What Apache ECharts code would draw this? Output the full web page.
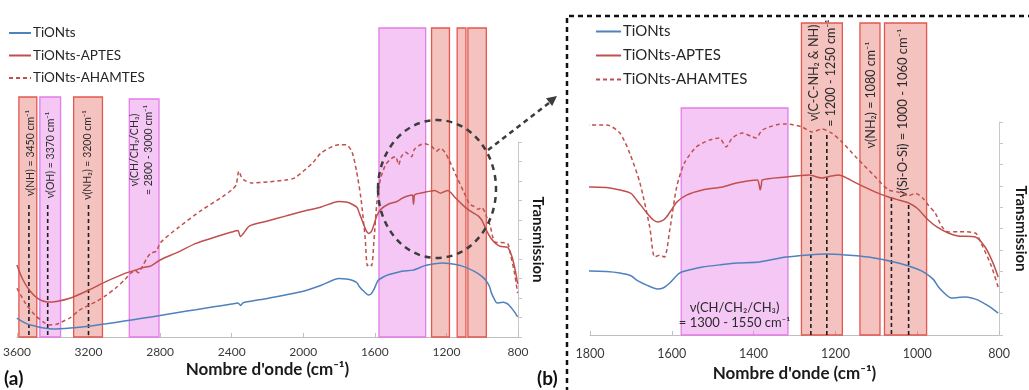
<!DOCTYPE html>
<html><head><meta charset="utf-8">
<script src="https://cdn.jsdelivr.net/npm/echarts@6/dist/echarts.min.js"></script>
<style>html,body{margin:0;padding:0;background:#fff}#c{width:1029px;height:390px}</style>
</head><body><div id="c"></div>
<script>
// ---------------- DATA ----------------
const seriesNames = ['TiONts', 'TiONts-APTES', 'TiONts-AHAMTES'];
const xTicksA = [800, 1200, 1600, 2000, 2400, 2800, 3200, 3600];
const xTicksB = [800, 1000, 1200, 1400, 1600, 1800];

const wnTiONts = [3600,3550,3500,3450,3400,3300,3200,3100,3000,2900,2800,2700,2600,2500,2400,2365,2350,2335,2200,2000,1900,1800,1760,1727,1700,1686,1660,1635,1620,1605,1581,1550,1525,1480,1442,1386,1321,1265,1223,1175,1119,1046,1000,980,960,948,930,917,900,883,865,851,825,802];
const valTiONts = [9.7,7.0,5.6,4.6,4.1,4.6,5.5,6.8,8.2,9.6,11.0,12.6,14.0,15.5,16.9,17.4,16.2,17.6,19.8,23.5,26.5,30.0,29.8,29.1,27.8,25.8,23.3,21.6,22.2,24.4,29.1,30.9,31.9,33.0,33.8,34.3,36.6,37.6,38.0,37.6,36.6,33.8,31.0,29.1,26.0,22.5,19.0,17.4,17.6,17.8,17.3,16.4,13.5,10.3];

const wnAPTES = [3600,3570,3530,3480,3430,3380,3300,3200,3100,3000,2930,2900,2850,2800,2700,2600,2500,2400,2365,2352,2335,2300,2200,2100,2000,1900,1800,1760,1727,1700,1686,1661,1645,1635,1622,1613,1600,1588,1564,1525,1476,1442,1391,1386,1384,1381,1379,1321,1265,1233,1210,1192,1170,1150,1102,1070,1046,1021,1000,973,950,924,900,858,834,815,802];
const valAPTES = [36.9,30.0,24.0,19.5,17.9,18.2,20.0,24.0,28.5,32.5,34.5,35.5,36.5,39.5,43.5,48.0,51.0,53.8,54.6,51.5,53.0,57.0,59.5,62.0,64.5,66.7,69.5,69.2,68.1,66.5,63.4,57.3,54.0,53.1,53.8,55.4,59.0,62.4,65.7,68.1,69.5,71.4,72.8,70.0,68.1,70.5,72.8,74.2,75.1,73.7,74.6,75.1,73.5,71.4,67.1,64.8,63.4,62.0,59.5,54.0,50.5,47.9,46.5,46.0,41.3,34.0,27.2];

const wnAHAMTES = [3600,3550,3500,3450,3420,3380,3350,3300,3250,3150,3100,3050,3000,2960,2940,2920,2900,2870,2850,2820,2800,2700,2567,2450,2400,2375,2360,2345,2330,2290,2200,2100,2050,1950,1900,1800,1759,1727,1703,1678,1654,1642,1630,1618,1605,1588,1569,1540,1508,1484,1467,1452,1428,1403,1394,1379,1345,1321,1282,1257,1233,1209,1184,1150,1102,1070,1046,1021,1004,985,973,956,940,924,900,858,844,820,802];
const valAHAMTES = [25.0,17.0,11.3,7.5,6.2,6.5,7.7,10.0,13.8,18.5,21.5,25.0,29.2,33.0,34.0,33.0,36.0,41.0,43.1,44.0,48.2,56.0,65.1,72.0,75.4,78.0,85.1,82.0,80.5,79.0,79.5,80.5,81.5,89.0,94.4,98.6,98.6,94.8,85.4,71.4,50.7,36.6,37.5,36.6,49.3,69.5,80.8,88.3,91.5,92.5,88.3,92.5,94.8,93.0,92.5,96.2,98.6,99.1,97.7,95.3,96.7,94.8,90.6,83.6,74.2,68.1,67.0,65.5,66.5,64.0,61.0,57.3,51.0,48.4,48.5,47.9,43.2,33.0,22.5];

// assignment bands (wavenumber ranges), kind: r = amine/silane (red), v = CH (violet)
const bandFrom = [3589, 3472, 3283, 2972, 1577, 1283, 1140, 1080];
const bandTo   = [3489, 3356, 3122, 2806, 1316, 1183, 1091, 977];
const bandKind = ['r', 'v', 'r', 'v', 'v', 'r', 'r', 'r'];
const bandLabel = [
  'ν(NH) = 3450 cm⁻¹',
  'ν(OH) = 3370 cm⁻¹',
  'ν(NH₂) = 3200 cm⁻¹',
  'ν(CH/CH₂/CH₃)\n= 2800 - 3000 cm⁻¹',
  'ν(CH/CH₂/CH₃)\n= 1300 - 1550 cm⁻¹',
  'ν(C-C-NH₂ & NH)\n= 1200 - 1250 cm⁻¹',
  'ν(NH₂) = 1080 cm⁻¹',
  'ν(Si-O-Si) = 1000 - 1060 cm⁻¹'
];
// dashed assignment marks (wavenumber)
const markWnA = [3533, 3428, 3200];
const markWnB = [1260, 1221, 1063, 1021];

// ---------------- LAYOUT / STYLE ----------------
const FONT = 'Lato, "Open Sans", sans-serif';
const COLORS = ['#4f81bd', '#c0504d', '#c0504d'];
const BAND_STYLE = {
  r: { fill: 'rgba(230,105,95,0.40)', stroke: 'rgba(226,80,72,0.95)', lineWidth: 1.3 },
  v: { fill: 'rgba(228,115,228,0.40)', stroke: 'rgba(225,120,230,0.95)', lineWidth: 1.3 }
};
const LAYOUT_A = {
  bands: [0,1,2,3,4,5,6,7],
  top: [97, 97, 97, 99, 28, 28, 28, 28],
  labels: { 0: {dx: 3, y: 153, rot: true, size: 10.5},
            1: {dx: 0, y: 155, rot: true, size: 10.5},
            2: {dx: 0, y: 155, rot: true, size: 10.5},
            3: {dx: -3, y: 150, rot: true, size: 10.5, lh: 14} },
  markTop: [205, 205, 205]
};
const LAYOUT_B = {
  bands: [4,5,6,7],
  top: [108, 23, 23, 23],
  labels: { 4: {dx: 0, y: 315, rot: false, size: 13, lh: 15},
            5: {dx: 1, y: 73, rot: true, size: 12.5, lh: 17},
            6: {dx: 1, y: 95, rot: true, size: 12.5},
            7: {dx: -3, y: 113, rot: true, size: 13} },
  markTop: [135, 135, 197, 205]
};

const chart = echarts.init(document.getElementById('c'), null, { renderer: 'canvas' });

function pairs(xs, ys) { return xs.map((x, i) => [x, ys[i]]); }

function lineSeries(gi) {
  const wns = [wnTiONts, wnAPTES, wnAHAMTES];
  const vals = [valTiONts, valAPTES, valAHAMTES];
  return seriesNames.map((name, k) => ({
    name, type: 'line', xAxisIndex: gi, yAxisIndex: gi,
    data: pairs(wns[k], vals[k]), symbol: 'none', smooth: 0.25, z: 3,
    clip: true, animation: false,
    lineStyle: { color: COLORS[k], width: 1.5, type: k === 2 ? [4, 3] : 'solid' },
    itemStyle: { color: COLORS[k] }
  }));
}

function bandSeries(gi, L) {
  return {
    type: 'custom', xAxisIndex: gi, yAxisIndex: gi, z: 1, silent: true, clip: false, animation: false,
    data: L.bands.map((b, j) => [bandFrom[b], bandTo[b], b, j]),
    encode: { x: [0, 1] },
    renderItem(params, api) {
      const b = api.value(2), j = api.value(3);
      const p1 = api.coord([api.value(0), 0]);
      const p2 = api.coord([api.value(1), 0]);
      const x = Math.min(p1[0], p2[0]), w = Math.abs(p2[0] - p1[0]);
      const top = L.top[j];
      const st = BAND_STYLE[bandKind[b]];
      const children = [{ type: 'rect', shape: { x, y: top, width: w, height: p1[1] - top },
        style: { fill: st.fill, stroke: st.stroke, lineWidth: st.lineWidth } }];
      const lab = L.labels[b];
      if (lab) {
        children.push({
          type: 'text', x: x + w / 2 + lab.dx, y: lab.y, rotation: lab.rot ? Math.PI / 2 : 0,
          style: { text: bandLabel[b], fill: '#2b2b2b', fontSize: lab.size, fontFamily: FONT,
                   align: 'center', verticalAlign: 'middle', lineHeight: lab.lh || lab.size * 1.2 },
          z2: 10
        });
      }
      return { type: 'group', children };
    }
  };
}

function markSeries(gi, wns, tops) {
  return {
    type: 'custom', xAxisIndex: gi, yAxisIndex: gi, z: 2, silent: true, clip: false, animation: false,
    data: wns.map((w, i) => [w, i]),
    encode: { x: 0 },
    renderItem(params, api) {
      const p = api.coord([api.value(0), 0]);
      return { type: 'line', shape: { x1: p[0], y1: tops[api.value(1)], x2: p[0], y2: p[1] },
        style: { stroke: '#1e1e1e', lineWidth: 1.6, lineDash: [4, 3] } };
    }
  };
}

function xAxis(gi, min, max, interval, labelSize, margin, nameGap) {
  return {
    gridIndex: gi, type: 'value', inverse: true, min, max, interval,
    axisLine: { lineStyle: { color: '#bfbfbf', width: 1 } },
    axisTick: { inside: true, length: 4, lineStyle: { color: '#bfbfbf' } },
    axisLabel: { color: '#3a3a3a', fontSize: labelSize, fontFamily: FONT, margin, showMinLabel: true, showMaxLabel: true,
                 formatter: v => String(v) },
    splitLine: { show: false },
    name: "Nombre d'onde (cm⁻¹)", nameLocation: 'middle', nameGap,
    nameTextStyle: { fontWeight: 'bold', fontSize: 17, color: '#1a1a1a', fontFamily: FONT }
  };
}
function yAxis(gi, nameGap) {
  return {
    gridIndex: gi, type: 'value', position: 'right', min: 0, max: 100, interval: 10,
    axisLine: { show: true, lineStyle: { color: '#c8c8c8' } },
    axisTick: { show: true, length: 4, lineStyle: { color: '#c8c8c8' } },
    axisLabel: { show: false }, splitLine: { show: false },
    name: 'Transmission', nameLocation: 'middle', nameRotate: -90, nameGap,
    nameTextStyle: { fontWeight: 'bold', fontSize: 15, color: '#1a1a1a', fontFamily: FONT }
  };
}

const legendBase = {
  orient: 'vertical', padding: 0, data: seriesNames,
  itemStyle: { opacity: 0, borderWidth: 0 }
};

const option = {
  animation: false,
  backgroundColor: '#fff',
  grid: [
    { left: 14, right: 511, top: 142, bottom: 53 },
    { left: 590, right: 28, top: 122, bottom: 55 }
  ],
  xAxis: [ xAxis(0, 800, 3600, 400, 12, 9, 24), xAxis(1, 800, 1800, 200, 12.5, 12, 24) ],
  yAxis: [ yAxis(0, 12), yAxis(1, 14) ],
  legend: [
    Object.assign({}, legendBase, { left: 8, top: 26, itemWidth: 22, itemHeight: 12, itemGap: 8.5,
      textStyle: { fontSize: 13.5, color: '#262626', fontFamily: FONT, padding: [0, 0, 0, -3] } }),
    Object.assign({}, legendBase, { left: 595, top: 24, itemWidth: 25, itemHeight: 14, itemGap: 9,
      textStyle: { fontSize: 15, color: '#262626', fontFamily: FONT, padding: [0, 0, 0, -3] } })
  ],
  series: [
    bandSeries(0, LAYOUT_A), markSeries(0, markWnA, LAYOUT_A.markTop), ...lineSeries(0),
    bandSeries(1, LAYOUT_B), markSeries(1, markWnB, LAYOUT_B.markTop), ...lineSeries(1)
  ],
  graphic: [
    { type: 'ellipse', shape: { cx: 437, cy: 189, rx: 59, ry: 69 }, z: 50,
      style: { fill: 'none', stroke: '#3c3c3c', lineWidth: 2.5, lineDash: [6, 5] } },
    { type: 'line', shape: { x1: 488, y1: 150, x2: 549, y2: 103 }, z: 50,
      style: { stroke: '#3c3c3c', lineWidth: 2.5, lineDash: [5, 4] } },
    { type: 'polygon', shape: { points: [[557, 96], [552.2, 106.1], [546.0, 98.3]] }, z: 50,
      style: { fill: '#3c3c3c' } },
    { type: 'polyline', shape: { points: [[567, 392], [567, 16], [1032, 16]] }, z: 50,
      style: { fill: 'none', stroke: '#111', lineWidth: 2.5, lineDash: [5, 4] } },
    { type: 'text', x: 4, y: 379, z: 50,
      style: { text: '(a)', fontWeight: 'bold', fontSize: 19, fontFamily: FONT, fill: '#111', verticalAlign: 'middle' } },
    { type: 'text', x: 537, y: 379, z: 50,
      style: { text: '(b)', fontWeight: 'bold', fontSize: 19, fontFamily: FONT, fill: '#111', verticalAlign: 'middle' } }
  ]
};
chart.setOption(option);
</script>
</body></html>
